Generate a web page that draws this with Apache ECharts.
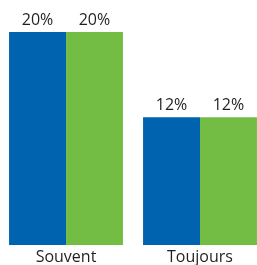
<!DOCTYPE html>
<html>
<head>
<meta charset="utf-8">
<script src="https://cdn.jsdelivr.net/npm/echarts@6/dist/echarts.min.js"></script>
<style>
html, body { margin: 0; padding: 0; background: #fff; }
#chart { width: 257px; height: 265px; }
</style>
</head>
<body>
<div id="chart"></div>
<script>
var categories = ['Souvent', 'Toujours'];
var blueValues = [20, 12];
var greenValues = [20, 12];

var chart = echarts.init(document.getElementById('chart'));
var labelStyle = {
	show : true,
	position : 'top',
	distance : 4,
	formatter : '{c}%',
	color : '#231f20',
	fontFamily : 'Open Sans',
	fontSize : 16
};
chart.setOption({
	animation : false,
	grid : {
		left : -1,
		width : 268,
		top : 32,
		bottom : 20,
		containLabel : false,
		outerBoundsMode : 'none'
	},
	xAxis : {
		type : 'category',
		data : categories,
		axisLine : { show : false },
		axisTick : { show : false },
		axisLabel : {
			margin : 4,
			color : '#231f20',
			fontFamily : 'Open Sans',
			fontSize : 16
		}
	},
	yAxis : {
		type : 'value',
		min : 0,
		max : 20,
		show : false,
		splitLine : { show : false }
	},
	series : [ {
		type : 'bar',
		data : blueValues,
		barGap : '0%',
		barCategoryGap : '15%',
		itemStyle : { color : '#0063af' },
		label : labelStyle
	}, {
		type : 'bar',
		data : greenValues,
		itemStyle : { color : '#74bd44' },
		label : labelStyle
	} ]
});
</script>
</body>
</html>
